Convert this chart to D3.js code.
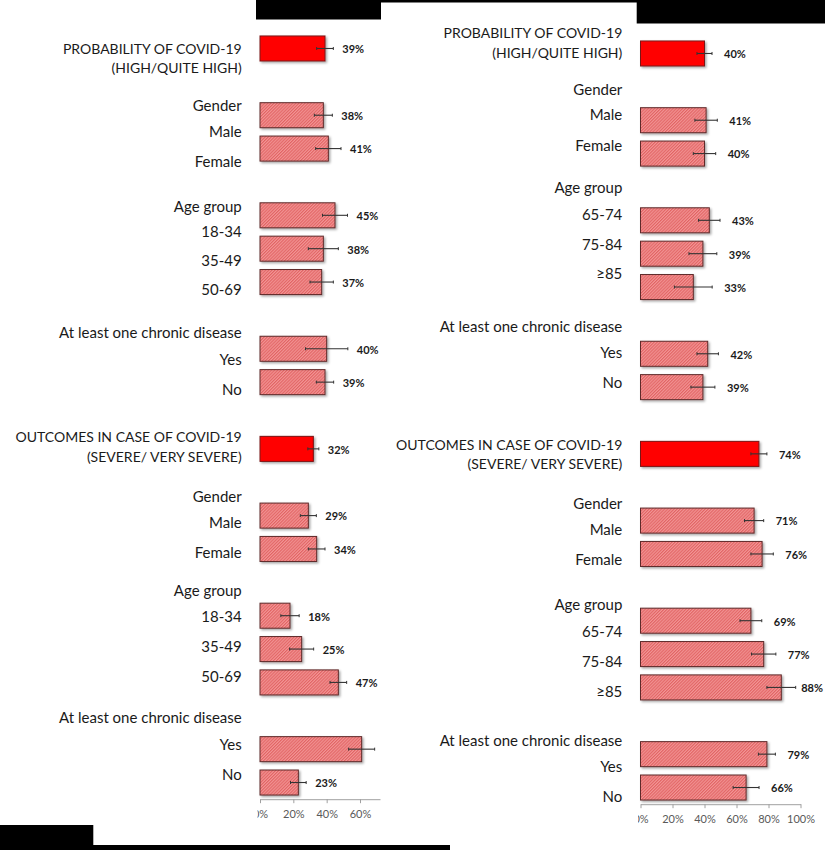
<!DOCTYPE html>
<html><head><meta charset="utf-8">
<script src="https://cdn.jsdelivr.net/npm/d3@7"></script>
<style>body{margin:0;background:#fff} svg{display:block}</style>
</head><body><svg id="chart" width="825" height="850"></svg>
<script>
// ---------- DATA ----------
const slots = ["p_total","p_gender","p_male","p_female","p_age","p_age1","p_age2","p_age3","p_chronic","p_yes","p_no","gap",
               "o_total","o_gender","o_male","o_female","o_age","o_age1","o_age2","o_age3","o_chronic","o_yes","o_no"];
const totalSlots = ["p_total","o_total"];

const rowLabelsLeft = ["PROBABILITY OF COVID-19","(HIGH/QUITE HIGH)","Gender","Male","Female","Age group","18-34","35-49","50-69",
  "At least one chronic disease","Yes","No","OUTCOMES IN CASE OF COVID-19","(SEVERE/ VERY SEVERE)","Gender","Male","Female",
  "Age group","18-34","35-49","50-69","At least one chronic disease","Yes","No"];
const rowLabelsRight = ["PROBABILITY OF COVID-19","(HIGH/QUITE HIGH)","Gender","Male","Female","Age group","65-74","75-84","≥85",
  "At least one chronic disease","Yes","No","OUTCOMES IN CASE OF COVID-19","(SEVERE/ VERY SEVERE)","Gender","Male","Female",
  "Age group","65-74","75-84","≥85","At least one chronic disease","Yes","No"];
const titleRows = [0,1,12,13];

// percentages (null = empty slot)
const valuesLeft  = [39,null,38,41,null,45,38,37,null,40,39,null,32,null,29,34,null,18,25,47,null,61,23];
const errorsLeft  = [5,null,5.4,7.6,null,7.5,9,7,null,12.7,5.2,null,3.3,null,4.8,5,null,5.5,7.2,5,null,7.8,4.7];
const valueLabelsLeft = ["39%","","38%","41%","","45%","38%","37%","","40%","39%","","32%","","29%","34%","","18%","25%","47%","","","23%"];

const valuesRight = [40,null,41,40,null,43,39,33,null,42,39,null,74,null,71,76,null,69,77,88,null,79,66];
const errorsRight = [4.7,null,7,7,null,6.7,8.7,11.8,null,6.7,7.5,null,5,null,6,7,null,6.8,7.6,9,null,5.3,8.1];
const valueLabelsRight = ["40%","","41%","40%","","43%","39%","33%","","42%","39%","","74%","","71%","76%","","69%","77%","88%","","79%","66%"];

const ticksLeft = [0,20,40,60];
const ticksRight = [0,20,40,60,80,100];

// ---------- LAYOUT (positions only) ----------
const rowYLeft  = [49,68,106,132,162,206.7,231.7,260.7,290,332.7,360,389.3,436.7,456.7,497,523,553,590.7,616.7,646.7,676.7,718,744.3,775];
const rowYRight = [33.3,53.3,89.3,115,145.7,188,214.3,245,274,326.7,352.7,382.7,444.7,463.5,503.3,530,560,605,631.7,661.7,691.7,740.7,766.7,796.7];

const panels = [
  {values: valuesLeft, errors: errorsLeft, vlabels: valueLabelsLeft, rows: rowLabelsLeft, rowY: rowYLeft,
   ticks: ticksLeft, xDomain:[0,72], xRange:[260,380], yRange:[31.8,799.2], textX:241.7, gap:9},
  {values: valuesRight, errors: errorsRight, vlabels: valueLabelsRight, rows: rowLabelsRight, rowY: rowYRight,
   ticks: ticksRight, xDomain:[0,100], xRange:[640.5,800.5], yRange:[36.8,804.2], textX:622.3, gap:12}
];

const svg = d3.select("#chart");
const FONT = "Lato, 'Open Sans', sans-serif";

// defs
const defs = svg.append("defs");
const pat = defs.append("pattern").attr("id","hatch").attr("width",2.2).attr("height",2.2)
  .attr("patternUnits","userSpaceOnUse").attr("patternTransform","rotate(45)");
pat.append("rect").attr("width",2.2).attr("height",2.2).attr("fill","#f39494");
pat.append("line").attr("x1",0.55).attr("y1",0).attr("x2",0.55).attr("y2",2.2).attr("stroke","#e06060").attr("stroke-width",1);
const f = defs.append("filter").attr("id","shadow").attr("x","-10%").attr("y","-20%").attr("width","130%").attr("height","160%");
f.append("feDropShadow").attr("dx",1.5).attr("dy",1.5).attr("stdDeviation",0.8).attr("flood-color","#000").attr("flood-opacity",0.35);

// decorative black frame pieces of the original figure
const frame = svg.append("g");
[[256,0,125,19.5],[381,0,256,2.5],[636.7,0,188.3,23.5],[0,825,93.3,25],[93,845,357,5]].forEach(r=>{
  frame.append("rect").attr("x",r[0]).attr("y",r[1]).attr("width",r[2]).attr("height",r[3]).attr("fill","#000");
});

panels.forEach((p, pi) => {
  const x = d3.scaleLinear().domain(p.xDomain).range(p.xRange);
  const y = d3.scaleBand().domain(slots).range(p.yRange).paddingInner(0.25).paddingOuter(0.125);
  const data = slots.map((k,i)=>({key:k, v:p.values[i], e:p.errors[i], lab:p.vlabels[i]})).filter(d=>d.v!=null);
  const g = svg.append("g");

  // bars
  g.selectAll("rect.bar").data(data).join("rect").attr("class","bar")
    .attr("x", x(0)).attr("y", d=>y(d.key))
    .attr("width", d=>x(d.v)-x(0)).attr("height", y.bandwidth())
    .attr("fill", d=> totalSlots.includes(d.key) ? "#ff0000" : "url(#hatch)")
    .attr("stroke", d=> totalSlots.includes(d.key) ? "#7a1414" : "#5e2a2a")
    .attr("stroke-width",1)
    .attr("filter","url(#shadow)");

  // error bars
  const eb = g.selectAll("g.err").data(data).join("g").attr("class","err");
  eb.append("line").attr("x1",d=>x(d.v-d.e)).attr("x2",d=>x(d.v+d.e))
    .attr("y1",d=>y(d.key)+y.bandwidth()/2).attr("y2",d=>y(d.key)+y.bandwidth()/2)
    .attr("stroke","#333").attr("stroke-width",1.1);
  [-1,1].forEach(s=>{
    eb.append("line").attr("x1",d=>x(d.v+s*d.e)).attr("x2",d=>x(d.v+s*d.e))
      .attr("y1",d=>y(d.key)+y.bandwidth()/2-1.5).attr("y2",d=>y(d.key)+y.bandwidth()/2+1.5)
      .attr("stroke","#333").attr("stroke-width",1);
  });

  // value labels
  g.selectAll("text.val").data(data.filter(d=>d.lab)).join("text").attr("class","val")
    .attr("x", d=>x(d.v+d.e)+p.gap).attr("y", d=>y(d.key)+y.bandwidth()/2+1)
    .attr("dy","0.35em").attr("font-family",FONT).attr("font-weight",700)
    .attr("font-size","11px").attr("fill","#1a1a1a").text(d=>d.lab)
    .each(function(){
      const w = this.getComputedTextLength();
      const cx = +this.getAttribute("x");
      if (cx + w > 823) this.setAttribute("x", 823 - w);
    });

  // row labels
  g.selectAll("text.row").data(p.rows).join("text").attr("class","row")
    .attr("x", p.textX).attr("y",(d,i)=>p.rowY[i]).attr("dy","0.36em")
    .attr("text-anchor","end").attr("font-family",FONT)
    .attr("font-size",(d,i)=> titleRows.includes(i) ? "14px" : "15px")
    .attr("fill","#1a1a1a").text(d=>d);

  // x axis
  const clipId = "clip"+pi;
  defs.append("clipPath").attr("id",clipId).append("rect")
    .attr("x", x(0)-2.5).attr("y", -5).attr("width", 220).attr("height", 40);
  const ax = g.append("g").attr("transform",`translate(0,${p.yRange[1]})`)
    .call(d3.axisBottom(x).tickValues(p.ticks).tickFormat(d=>d+"%").tickSize(4).tickSizeOuter(0))
    .attr("clip-path",`url(#${clipId})`);
  ax.select(".domain").attr("stroke","#a0a0a0");
  ax.selectAll(".tick line").attr("stroke","#a0a0a0");
  ax.selectAll(".tick text").attr("font-family",FONT).attr("font-size","11px").attr("fill","#595959").attr("y",11);
});
</script></body></html>
